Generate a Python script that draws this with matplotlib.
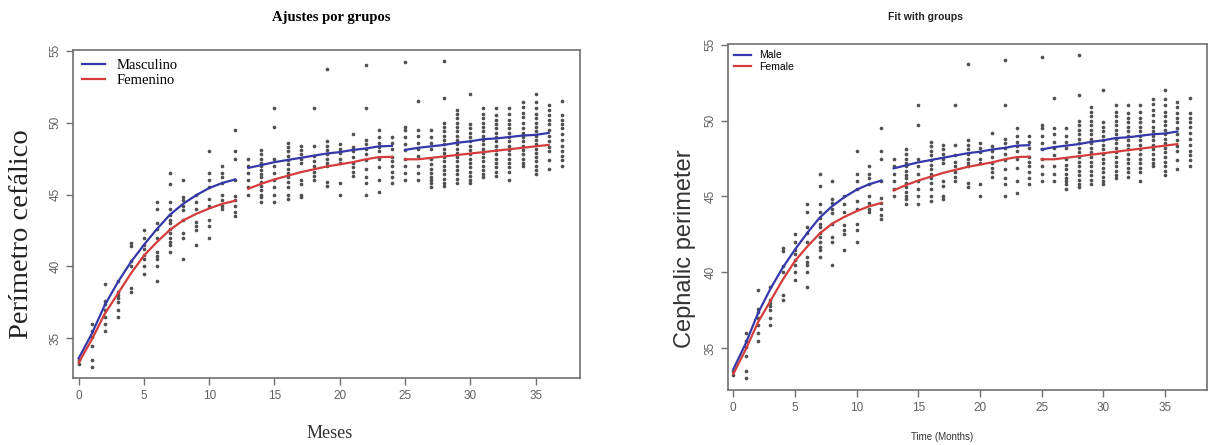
import matplotlib
matplotlib.use("Agg")
import matplotlib.pyplot as plt

# ---- observed head circumference (cm) by month of age ----
months_a = list(range(0, 13))
months_b = list(range(13, 25))
months_c = list(range(25, 38))

obs_a = [
    [33.5, 33.2],
    [36.0, 35.5, 35.1, 34.5, 33.5, 33.0],
    [38.8, 37.6, 37.4, 37.0, 36.5, 36.0, 35.5],
    [39.0, 38.2, 38.0, 37.8, 37.5, 37.0, 36.5],
    [41.6, 41.4, 40.4, 40.0, 38.5, 38.2],
    [42.5, 42.0, 41.5, 41.2, 40.8, 40.5, 40.0, 39.5],
    [44.5, 44.0, 43.0, 42.6, 42.0, 41.0, 40.7, 40.5, 40.0, 39.0],
    [46.5, 45.7, 44.5, 44.0, 43.6, 43.2, 43.0, 42.6, 42.3, 42.0, 41.7, 41.5, 41.0],
    [46.0, 44.8, 44.6, 44.2, 43.9, 43.2, 42.3, 42.0, 40.5],
    [45.0, 44.5, 44.0, 43.1, 42.8, 42.5, 41.5],
    [48.0, 46.5, 46.0, 45.5, 44.7, 44.2, 43.2, 42.8, 42.0],
    [47.0, 46.5, 46.2, 45.8, 45.0, 44.6, 44.2, 44.0],
    [49.5, 48.0, 47.5, 46.0, 44.9, 44.6, 44.2, 43.8, 43.5],
]
obs_b = [
    [47.5, 47.0, 46.5, 46.0, 45.5, 45.0],
    [48.1, 47.8, 47.5, 47.2, 47.0, 46.7, 46.4, 46.2, 45.9, 45.6, 45.3, 45.0, 44.8, 44.5],
    [51.0, 49.7, 47.5, 47.0, 46.5, 46.0, 45.5, 45.0, 44.5],
    [48.6, 48.3, 48.0, 47.7, 47.4, 47.1, 46.8, 46.5, 46.2, 45.9, 45.5, 45.0, 44.7],
    [48.4, 48.1, 47.8, 47.5, 47.2, 46.0, 45.7, 45.0, 44.8],
    [51.0, 48.4, 47.7, 47.3, 47.0, 46.6, 46.3, 46.0],
    [53.7, 48.7, 48.4, 48.1, 47.8, 47.5, 47.2, 47.0, 45.9, 45.6],
    [48.5, 48.2, 47.9, 47.5, 47.2, 45.8, 45.0],
    [49.2, 48.3, 48.0, 47.6, 47.2, 46.9, 46.6, 46.3],
    [54.0, 51.0, 48.8, 48.5, 48.2, 47.8, 47.4, 46.8, 46.2, 45.8, 45.0],
    [49.5, 49.0, 48.6, 48.3, 48.0, 47.5, 46.9, 46.0, 45.2],
    [49.0, 48.6, 48.2, 47.6, 47.3, 47.0, 46.6, 46.2, 45.8],
]
obs_c = [
    [54.2, 49.7, 49.5, 49.0, 48.5, 48.1, 47.5, 47.0, 46.5, 46.0],
    [51.5, 49.5, 49.1, 48.6, 48.2, 47.7, 47.0, 46.5, 46.0],
    [49.5, 49.0, 48.6, 48.2, 47.5, 47.1, 46.8, 46.5, 46.2, 46.0, 45.8, 45.5],
    [54.3, 51.7, 50.0, 49.7, 49.4, 49.1, 48.8, 48.5, 48.2, 47.9, 47.6, 47.3,
     47.0, 46.7, 46.4, 46.1, 45.8, 45.6],
    [50.9, 50.6, 50.3, 50.0, 49.7, 49.4, 49.1, 48.8, 48.5, 48.2, 47.9, 47.6,
     47.3, 47.0, 46.7, 46.4, 46.1, 45.8],
    [52.0, 49.9, 49.6, 49.3, 49.0, 48.7, 48.4, 48.1, 47.8, 47.5, 47.2, 46.9,
     46.6, 46.3, 46.0, 45.8],
    [51.0, 50.6, 50.3, 50.0, 49.7, 49.4, 49.1, 48.8, 48.5, 48.2, 47.9, 47.6,
     47.3, 47.0, 46.7, 46.4, 46.2],
    [51.0, 50.5, 50.2, 49.9, 49.6, 49.3, 49.0, 48.7, 48.4, 48.1, 47.8, 47.5,
     47.2, 46.9, 46.6, 46.3],
    [51.0, 50.6, 50.2, 49.9, 49.6, 49.3, 49.0, 48.7, 48.4, 48.1, 47.8, 47.5,
     47.2, 46.9, 46.6, 46.0],
    [51.4, 51.1, 50.7, 50.4, 50.0, 49.6, 49.3, 49.0, 48.7, 48.4, 48.1, 47.8,
     47.5, 47.2, 47.0],
    [52.0, 51.4, 51.0, 50.6, 50.3, 50.0, 49.7, 49.4, 49.1, 48.8, 48.5, 48.2,
     47.9, 47.6, 47.3, 47.0, 46.7, 46.4],
    [51.2, 50.9, 50.5, 50.2, 49.9, 49.5, 49.1, 48.7, 48.3, 48.0, 47.4, 46.8],
    [51.5, 50.5, 50.2, 49.9, 49.6, 49.2, 48.8, 48.4, 48.0, 47.7, 47.4, 47.0],
]

# ---- fitted curves per sex, one piece per year of age ----
fit_months_a = list(range(0, 13))
fit_months_b = list(range(13, 25))
fit_months_c = list(range(25, 37))

male_fit_a = [33.6, 35.3, 37.3, 38.9, 40.3, 41.5, 42.6, 43.6, 44.35, 44.95, 45.45, 45.8, 46.05]
male_fit_b = [46.85, 47.05, 47.25, 47.4, 47.55, 47.7, 47.85, 47.95, 48.1, 48.2, 48.35, 48.38]
male_fit_c = [48.1, 48.25, 48.35, 48.45, 48.6, 48.7, 48.85, 48.9, 49.0, 49.1, 49.15, 49.28]

female_fit_a = [33.3, 34.9, 36.7, 38.1, 39.5, 40.75, 41.7, 42.55, 43.2, 43.65, 44.03, 44.35, 44.57]
female_fit_b = [45.4, 45.75, 46.05, 46.3, 46.55, 46.75, 46.95, 47.1, 47.25, 47.45, 47.6, 47.62]
female_fit_c = [47.45, 47.45, 47.55, 47.65, 47.75, 47.85, 47.95, 48.05, 48.15, 48.25, 48.35, 48.45]

x_ticks = [0, 5, 10, 15, 20, 25, 30, 35]
y_ticks = [35, 40, 45, 50, 55]

BLUE = "#3438a8"
RED = "#d43c3c"
POINT = "#505050"
AXIS = "#707070"
TICKTXT = "#606060"

W, H = 1208, 445
fig = plt.figure(figsize=(W / 100, H / 100), dpi=100)
fig.patch.set_facecolor("white")


def rect(left, top, right, bottom):
    return [left / W, 1 - bottom / H, (right - left) / W, (bottom - top) / H]


def draw_panel(ax, legend_labels, legend_font, legend_size):
    for months, obs in ((months_a, obs_a), (months_b, obs_b), (months_c, obs_c)):
        for m, vals in zip(months, obs):
            ax.scatter([m] * len(vals), vals, s=7, color=POINT, linewidths=0, zorder=2)
    segs = ((fit_months_a, male_fit_a, female_fit_a),
            (fit_months_b, male_fit_b, female_fit_b),
            (fit_months_c, male_fit_c, female_fit_c))
    for i, (mx, mv, fv) in enumerate(segs):
        ax.plot(mx, mv, color=BLUE, lw=1.6, zorder=3,
                label=legend_labels[0] if i == 0 else None)
        ax.plot(mx, fv, color=RED, lw=1.6, zorder=3,
                label=legend_labels[1] if i == 0 else None)
    ax.set_xlim(-0.43, 38.4)
    ax.set_ylim(32.24, 55.05)
    ax.set_xticks(x_ticks)
    ax.set_yticks(y_ticks)
    ax.tick_params(direction="out", length=5, width=1, color=AXIS,
                   labelcolor=TICKTXT, labelsize=8.5)
    for lab in ax.get_yticklabels():
        lab.set_rotation(90)
        lab.set_va("center")
    for sp in ax.spines.values():
        sp.set_color(AXIS)
        sp.set_linewidth(1.2)
    for lab in ax.get_xticklabels() + ax.get_yticklabels():
        lab.set_family(["Liberation Sans", "DejaVu Sans"])
    leg = ax.legend(loc="upper left", frameon=False, handlelength=1.6,
                    handletextpad=0.8, borderaxespad=0.2, labelspacing=0.15,
                    prop={"family": legend_font, "size": legend_size})
    return leg


# left panel (Spanish)
ax1 = fig.add_axes(rect(73, 50, 580, 378))
draw_panel(ax1, ["Masculino", "Femenino"], ["Liberation Serif"], 10.5)
fig.text(331 / W, 1 - 18 / H, "Ajustes por grupos", ha="center", va="center",
         family="Liberation Serif", weight="bold", size=10.5)
fig.text(330 / W, 1 - 434 / H, "Meses", ha="center", va="center",
         family="Liberation Serif", size=13, color="#333333")
fig.text(22 / W, 1 - 234 / H, "Perímetro cefálico", ha="center", va="center",
         rotation=90, family="Liberation Serif", size=20.5, color="#222222")

# right panel (English)
ax2 = fig.add_axes(rect(728, 44, 1207, 390))
draw_panel(ax2, ["Male", "Female"], ["Liberation Sans"], 7.5)
fig.text(925 / W, 1 - 17 / H, "Fit with groups", ha="center", va="center",
         family="Liberation Sans", weight="bold", size=7.5, color="#222222")
fig.text(942 / W, 1 - 437 / H, "Time (Months)", ha="center", va="center",
         family="Liberation Sans", size=7, color="#333333")
fig.text(685 / W, 1 - 249 / H, "Cephalic perimeter", ha="center", va="center",
         rotation=90, family="Liberation Sans", size=17, color="#333333")

fig.savefig("out.png", dpi=100)
